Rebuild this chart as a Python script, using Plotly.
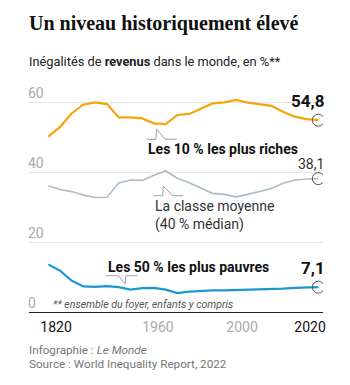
import plotly.graph_objects as go

# ---- data ----
points = list(range(24))  # evenly spaced observation points 1820 -> 2020
top10 = [50.1, 52.9, 56.8, 59.3, 59.9, 59.4, 55.6, 55.6, 55.3, 53.9, 53.7, 56.3,
         56.6, 58.2, 59.6, 59.9, 60.6, 59.8, 59.4, 58.9, 57.2, 55.8, 55.1, 54.8]
middle40 = [36.1, 35.0, 34.4, 33.4, 32.7, 32.8, 36.9, 37.7, 37.6, 39.1, 40.3, 38.2,
            36.9, 35.3, 33.9, 33.6, 32.9, 33.6, 34.4, 35.3, 36.8, 37.7, 38.0, 38.1]
bottom50 = [13.6, 11.8, 8.9, 7.3, 7.2, 7.4, 7.1, 6.4, 6.8, 6.9, 6.4, 5.4,
            5.8, 6.1, 6.2, 6.2, 6.3, 6.3, 6.3, 6.5, 6.7, 6.9, 7.0, 7.1]
x_tick_labels = ["1820", "1960", "2000", "2020"]
y_ticks = [0, 20, 40, 60]

# ---- geometry (pixels) ----
W, H = 350, 385
L, R, T, B = 29, 27, 81, 73
pw, ph = W - L - R, H - T - B


def px(x):
    return (x - L) / pw


def py(y):
    return (H - B - y) / ph


SANS = "Roboto, Arial"
ORANGE = "#f5a50a"
GREY = "#aebcc6"
BLUE = "#1b98d0"

fig = go.Figure()
for vals, col, w in [(top10, ORANGE, 2.2), (middle40, GREY, 1.6), (bottom50, BLUE, 2.2)]:
    fig.add_trace(go.Scatter(x=points, y=vals, mode="lines",
                             line=dict(color=col, width=w), hoverinfo="skip"))
    fig.add_trace(go.Scatter(x=[points[-1]], y=[vals[-1]], mode="markers",
                             marker=dict(symbol="circle-open", size=12, color="#555",
                                         line=dict(color="#555", width=1)),
                             hoverinfo="skip"))

tick_colors = ["#111", "#aaa", "#aaa", "#111"]
tick_pos = [0.66, 9.34, 16.5, 22.3]

annotations = [
    dict(x=px(26.5), y=py(23), text="<b>Un niveau historiquement élevé</b>",
         font=dict(family="Liberation Serif", size=20, color="#111"), xanchor="left", yanchor="middle"),
    dict(x=px(26.5), y=py(61), text="Inégalités de <b>revenus</b> dans le monde, en %**",
         font=dict(family=SANS, size=12.8, color="#222"), xanchor="left", yanchor="middle"),
    dict(x=px(326), y=py(101), text="<b>%s</b>" % f"{top10[-1]:.1f}".replace(".", ","),
         font=dict(family=SANS, size=17, color="#111"), xanchor="right", yanchor="middle"),
    dict(x=px(326), y=py(164), text=f"{middle40[-1]:.1f}".replace(".", ","),
         font=dict(family=SANS, size=14, color="#333"), xanchor="right", yanchor="middle"),
    dict(x=px(327), y=py(268), text="<b>%s</b>" % f"{bottom50[-1]:.1f}".replace(".", ","),
         font=dict(family=SANS, size=17, color="#111"), xanchor="right", yanchor="middle"),
    dict(x=px(146), y=py(149), text="<b>Les 10 % les plus riches</b>",
         font=dict(family=SANS, size=14, color="#111"), xanchor="left", yanchor="middle"),
    dict(x=px(153), y=py(215.5), text="La classe moyenne<br>(40 % médian)", align="left",
         font=dict(family=SANS, size=14, color="#333"), xanchor="left", yanchor="middle"),
    dict(x=px(106), y=py(267), text="<b>Les 50 % les plus pauvres</b>",
         font=dict(family=SANS, size=14, color="#111"), xanchor="left", yanchor="middle"),
    dict(x=px(51), y=py(304), text="<i>** ensemble du foyer, enfants y compris</i>",
         font=dict(family=SANS, size=10.5, color="#555"), xanchor="left", yanchor="middle"),
    dict(x=px(26.5), y=py(349.5), text="Infographie : <i>Le Monde</i>",
         font=dict(family=SANS, size=11.7, color="#777"), xanchor="left", yanchor="middle"),
    dict(x=px(26.5), y=py(363.5), text="Source : World Inequality Report, 2022",
         font=dict(family=SANS, size=11.7, color="#777"), xanchor="left", yanchor="middle"),
]
for a in annotations:
    a.update(xref="paper", yref="paper", showarrow=False)

for v in y_ticks:
    annotations.append(dict(x=px(25.5), xref="paper", y=v, yref="y", text=str(v), showarrow=False,
                            xanchor="left", yanchor="bottom", yshift=-1,
                            font=dict(family=SANS, size=14, color="#aaa")))

shapes = []
leaders = [
    [(146.7, 139.3), (156, 139.3), (156.7, 129.3), (165, 139.3), (176.7, 139.3)],
    [(153.3, 195.7), (162.7, 195.7), (163.3, 186), (172.7, 195.7), (183.3, 195.7)],
    [(105.7, 275.7), (118.3, 275.7), (125, 284), (126, 275.7), (137.7, 275.7)],
]
for pts in leaders:
    path = "M " + " L ".join(f"{px(a)},{py(b)}" for a, b in pts)
    shapes.append(dict(type="path", path=path, xref="paper", yref="paper",
                       line=dict(color="#888", width=0.8)))

fig.update_layout(
    width=W, height=H, margin=dict(l=L, r=R, t=T, b=B),
    paper_bgcolor="white", plot_bgcolor="white", showlegend=False,
    annotations=annotations, shapes=shapes,
    xaxis=dict(range=[(L - 48.3) / 11.74, (W - R - 48.3) / 11.74], showgrid=False,
               zeroline=False, showline=True, linecolor="#222", linewidth=1,
               tickvals=tick_pos,
               ticktext=[f'<span style="color:{c}">{t}</span>' for t, c in zip(x_tick_labels, tick_colors)],
               tickfont=dict(family=SANS, size=14), ticks="", ticklabelstandoff=2),
    yaxis=dict(range=[0, ph / 3.5], tickvals=y_ticks, showgrid=True, gridcolor="#e6e6e6",
               gridwidth=1, zeroline=False, showline=False, ticks="", showticklabels=False),
)

fig.write_html("out.html")
